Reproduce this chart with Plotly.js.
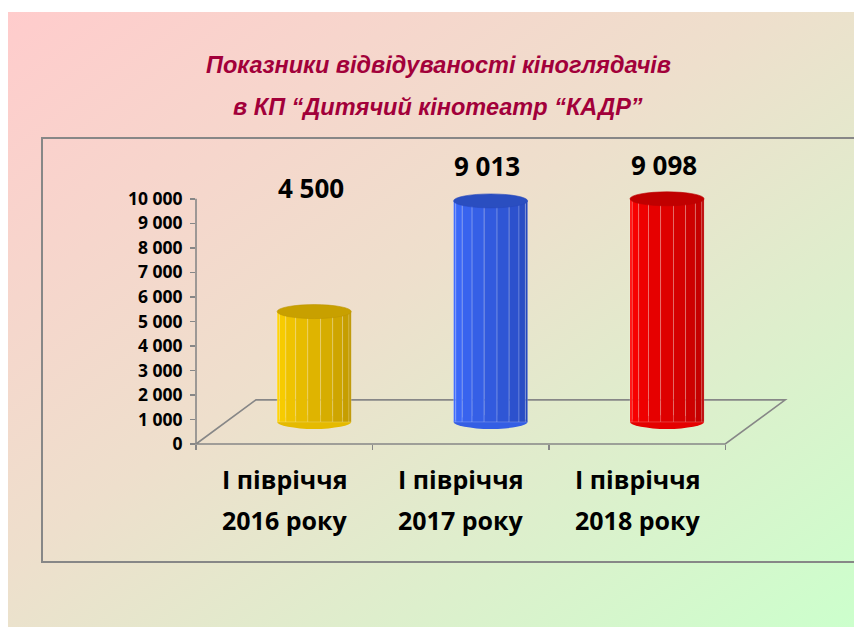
<!DOCTYPE html>
<html>
<head>
<meta charset="utf-8">
<script src="https://cdn.plot.ly/plotly-3.0.1.min.js"></script>
<style>
  html, body { margin: 0; padding: 0; width: 854px; height: 627px; overflow: hidden; background: #fff; }
  #bg { position: absolute; left: 8px; top: 12px; width: 846px; height: 615px;
        background: linear-gradient(to bottom right, #ffcccc 0%, #eedfcc 45%, #ccffcc 100%); }
  #frame { position: absolute; left: 41px; top: 137px; width: 860px; height: 422px; border: 2px solid #878787; }
  #chart { position: absolute; left: 0; top: 0; width: 854px; height: 627px; }
</style>
</head>
<body>
<div id="bg"></div>
<div id="frame"></div>
<div id="chart"></div>
<script>
// chart data
var periods = ["І півріччя", "І півріччя", "І півріччя"];
var years = ["2016 року", "2017 року", "2018 року"];
var visitors = [4500, 9013, 9098];
var yTicks = [0, 1000, 2000, 3000, 4000, 5000, 6000, 7000, 8000, 9000, 10000];

// cylinder colours: left (lit) side, right (shaded) side, top
var leftCols = [[255, 210, 0], [62, 108, 255], [255, 0, 0]];
var rightCols = [[190, 150, 0], [38, 72, 188], [188, 0, 0]];
var topCols = ["rgb(200,160,0)", "rgb(42,78,192)", "rgb(192,0,0)"];

// fake 3D geometry (axis units)
var xr = [-0.5, 2.85], yr = [0, 11500];
var depthX = 0.34, depthY = 1800;
var shift = depthX / 2, base = depthY / 2;
var barW = 0.42, capH = 285, facets = 9;

var boldFont = "'Open Sans', Lato, sans-serif";

function fmt(v) { return String(v).replace(/\B(?=(\d{3})+(?!\d))/g, " "); }
function px(x) { return (x - xr[0]) / (xr[1] - xr[0]); }
function py(y) { return (y - yr[0]) / (yr[1] - yr[0]); }
function mix(a, b, t) {
  return "rgb(" + a.map(function (c, j) { return Math.round(c + (b[j] - c) * t); }).join(",") + ")";
}

var idx = visitors.map(function (v, i) { return i; });

var data = [];
for (var k = 0; k < facets; k++) {
  var a0 = Math.PI - k * Math.PI / facets, a1 = Math.PI - (k + 1) * Math.PI / facets;
  var x0 = Math.cos(a0) * barW / 2, x1 = Math.cos(a1) * barW / 2;
  var t = k / (facets - 1);
  data.push({
    type: "bar",
    x: idx,
    y: visitors,
    base: base,
    offset: shift + x0,
    width: x1 - x0,
    marker: {
      color: idx.map(function (i) { return mix(leftCols[i], rightCols[i], t); }),
      line: { width: 0.6, color: "rgba(255,255,255,0.35)" }
    },
    hoverinfo: "skip",
    showlegend: false
  });
}

var shapes = [];
// floor of the 3D box
shapes.push({
  type: "path", xref: "paper", yref: "paper", layer: "below",
  path: "M" + px(xr[0]) + "," + py(0) +
        " L" + px(xr[0] + depthX) + "," + py(depthY) +
        " L" + px(2.5 + depthX) + "," + py(depthY) +
        " L" + px(2.5) + "," + py(0) + " Z",
  line: { color: "#878787", width: 1.6 }
});
// value axis line
shapes.push({
  type: "line", xref: "paper", yref: "paper",
  x0: 0, x1: 0, y0: py(0), y1: py(10000),
  line: { color: "#878787", width: 1.6 }
});
visitors.forEach(function (v, i) {
  // rounded bottom
  shapes.push({
    type: "circle", xref: "x", yref: "y", layer: "below",
    x0: i + shift - barW / 2, x1: i + shift + barW / 2,
    y0: base - capH, y1: base + capH,
    fillcolor: mix(leftCols[i], rightCols[i], 0.4), line: { width: 0 }
  });
  // top cap
  shapes.push({
    type: "circle", xref: "x", yref: "y", layer: "above",
    x0: i + shift - barW / 2, x1: i + shift + barW / 2,
    y0: v + base - capH, y1: v + base + capH,
    fillcolor: topCols[i], line: { width: 0.6, color: mix(rightCols[i], rightCols[i], 0) }
  });
});

var annotations = [];
visitors.forEach(function (v, i) {
  annotations.push({
    xref: "x", yref: "y", x: i + shift - 0.02, y: 10450 + (v - 4500) * 0.2,
    text: fmt(v), showarrow: false, yanchor: "middle",
    font: { family: boldFont, size: 26, weight: "bold", color: "#000" }
  });
  annotations.push({
    xref: "x", yref: "paper", x: i, y: -0.124, yanchor: "middle",
    text: periods[i], showarrow: false,
    font: { family: boldFont, size: 25, weight: "bold", color: "#000" }
  });
  annotations.push({
    xref: "x", yref: "paper", x: i, y: -0.268, yanchor: "middle",
    text: years[i], showarrow: false,
    font: { family: boldFont, size: 25, weight: "bold", color: "#000" }
  });
});
var titleFont = { family: "'Liberation Sans', Arial, sans-serif", size: 23.5, weight: "bold", style: "italic", color: "#a2003a" };
annotations.push({ xref: "paper", yref: "paper", x: 0.4095, y: 1.344, showarrow: false, yanchor: "middle",
  text: "Показники відвідуваності кіноглядачів", font: titleFont });
annotations.push({ xref: "paper", yref: "paper", x: 0.4095, y: 1.195, showarrow: false, yanchor: "middle",
  text: "в КП “Дитячий кінотеатр “КАДР”", font: titleFont });

var layout = {
  width: 854, height: 627,
  margin: { l: 196, r: 67, t: 162, b: 183 },
  paper_bgcolor: "rgba(0,0,0,0)",
  plot_bgcolor: "rgba(0,0,0,0)",
  barmode: "overlay",
  showlegend: false,
  xaxis: {
    range: xr, showgrid: false, zeroline: false, showline: false,
    tickvals: [-0.5, 0.5, 1.5, 2.5], ticktext: ["", "", "", ""],
    ticks: "outside", ticklen: 5, tickwidth: 1.5, tickcolor: "#878787"
  },
  yaxis: {
    range: yr, showgrid: false, zeroline: false, showline: false,
    tickvals: yTicks, ticktext: yTicks.map(fmt),
    ticks: "outside", ticklen: 5, tickwidth: 1.5, tickcolor: "#878787",
    ticklabelstandoff: 4,
    tickfont: { family: boldFont, size: 17.5, weight: "bold", color: "#000" }
  },
  shapes: shapes,
  annotations: annotations
};

Plotly.newPlot("chart", data, layout, { staticPlot: true });
</script>
</body>
</html>
